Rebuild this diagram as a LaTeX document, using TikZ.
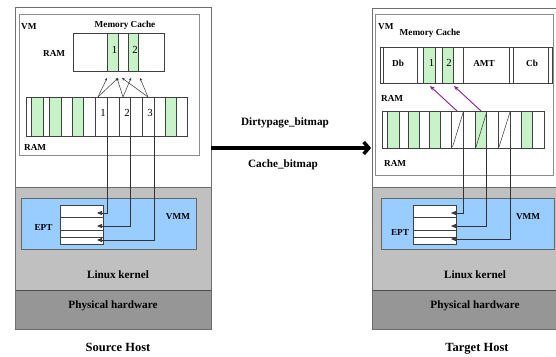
\documentclass[tikz,border=0pt]{standalone}
\usepackage{fontspec}
\setmainfont{Liberation Serif}
\usetikzlibrary{arrows.meta}
\definecolor{cgreen}{HTML}{C8F2C8}
\definecolor{cblue}{HTML}{99CCFF}
\definecolor{ckern}{HTML}{C0C0C0}
\definecolor{chw}{HTML}{969696}
\definecolor{cframe}{HTML}{6E6E6E}
\definecolor{cpurple}{HTML}{7A1F8A}
\begin{document}
\begin{tikzpicture}[x=1pt,y=-1pt,
  lbl/.style={font=\bfseries\fontsize{9.2}{10}\selectfont, inner sep=0pt},
  big/.style={font=\bfseries\fontsize{11.2}{12}\selectfont, inner sep=0pt},
  hostlbl/.style={font=\bfseries\fontsize{12.5}{14}\selectfont, inner sep=0pt, anchor=base},
  num/.style={font=\fontsize{10.8}{12}\selectfont, inner sep=0pt},
  frame/.style={draw=cframe, line width=0.7pt},
  vmbox/.style={draw=black!45, line width=0.7pt},
  cellbox/.style={draw=black!75, line width=0.55pt},
  bluebox/.style={draw=black!60, fill=cblue, line width=0.6pt},
  smallarr/.style={draw=black!80, line width=0.5pt, -{Stealth[length=2.8pt,width=2.4pt]}},
  eptarr/.style={draw=black!80, line width=0.65pt, -{Triangle[length=5pt,width=4pt]}},
  purparr/.style={draw=cpurple, line width=0.9pt, -{Stealth[length=5pt,width=4pt]}},
  bigarr/.style={draw=black, line width=3.5pt, -{Straight Barb[length=5pt,width=12pt]}}]
\useasboundingbox (0,0) rectangle (556,356);

%%%%%%%%%%%%%%%% SOURCE HOST %%%%%%%%%%%%%%%%
\fill[ckern] (15,187) rectangle (210.5,290);
\fill[chw] (15,290) rectangle (210.5,329);
\draw[black!70, line width=0.7pt] (15,290) -- (210.5,290);
\draw[frame] (15,187) -- (210.5,187);
\node[frame, minimum width=195.5pt, minimum height=322pt, anchor=north west, inner sep=0pt] (shost) at (15,7) {};
\node[vmbox, minimum width=180pt, minimum height=141pt, anchor=north west, inner sep=0pt] (svm) at (19,14) {};
\node[lbl, anchor=west] (svmlbl) at (21,27) {VM};
\node[lbl] (smclbl) at (125,25) {Memory Cache};
\node[lbl, anchor=west] (sramlbl) at (43,53) {RAM};
% memory cache box
\fill[cgreen] (107,33) rectangle (118,71);
\fill[cgreen] (128,33) rectangle (138,71);
\draw[cellbox] (107,33) -- (107,71) (118,33) -- (118,71) (128,33) -- (128,71) (138,33) -- (138,71);
\node[cellbox, minimum width=91pt, minimum height=38pt, anchor=north west, inner sep=0pt] (smc) at (73,33) {};
\node[num] (smc1) at (114.5,50) {1};
\node[num] (smc2) at (135,50) {2};
% RAM row
\foreach \a/\b/\c in {26.7/31.7/white, 31.7/43.3/cgreen, 43.3/49.3/white, 49.3/61/cgreen,
  61/72.7/white, 72.7/83.3/cgreen, 83.3/95.7/white, 95.7/107.3/white, 107.3/119/white,
  119/130.7/white, 130.7/142.3/white, 142.3/154/white, 154/165/white, 165/176.7/cgreen,
  176.7/187.3/white}
  \filldraw[cellbox, fill=\c] (\a,97) rectangle (\b,136);
\node[num] (sr1) at (103,113) {1};
\node[num] (sr2) at (127,113) {2};
\node[num] (sr3) at (150,113) {3};
\node[lbl, anchor=west] (sram2lbl) at (24,147) {RAM};
% arrows RAM -> cache
\coordinate (sa1) at (98,97);
\coordinate (sa2) at (123,97);
\coordinate (sa3) at (148,97);
\coordinate (st1) at (107,78);
\coordinate (st2) at (118,78);
\coordinate (st3) at (117,78);
\coordinate (st4) at (131,78);
\coordinate (st5) at (122,78);
\coordinate (st6) at (140,78);
\draw[smallarr] (sa1) -- (st1);
\draw[smallarr] (sa1) -- (st2);
\draw[smallarr] (sa2) -- (st3);
\draw[smallarr] (sa2) -- (st4);
\draw[smallarr] (sa3) -- (st5);
\draw[smallarr] (sa3) -- (st6);
% VMM
\node[bluebox, minimum width=175pt, minimum height=51pt, anchor=north west, inner sep=0pt] (svmm) at (21,198) {};
\node[lbl] (svmmlbl) at (178,217) {VMM};
\node[lbl] (septlbl) at (43.5,227) {EPT};
\node[cellbox, fill=white, minimum width=43pt, minimum height=39pt, anchor=north west, inner sep=0pt] (sept) at (60,205) {};
\draw[cellbox] (60,217) -- (103,217) (60,230) -- (103,230) (60,237) -- (103,237);
\coordinate (sd1) at (107.3,136);
\coordinate (sd2) at (130.7,136);
\coordinate (sd3) at (154,136);
\coordinate (se1) at (97,213);
\coordinate (se2) at (97,226);
\coordinate (se3) at (97,240);
\draw[eptarr] (sd1) |- (se1);
\draw[eptarr] (sd2) |- (se2);
\draw[eptarr] (sd3) |- (se3);
\node[big] (skern) at (118,275) {Linux kernel};
\node[big] (shw) at (113,306) {Physical hardware};
\node[hostlbl] (shostlbl) at (118,351.5) {Source Host};

%%%%%%%%%%%%%%%% MIDDLE %%%%%%%%%%%%%%%%
\coordinate (mstart) at (211,148);
\coordinate (mend) at (371,148);
\draw[bigarr] (mstart) -- (mend);
\node[big] (dirty) at (285,123) {Dirtypage\_bitmap};
\node[big] (cachebm) at (283,165) {Cache\_bitmap};

%%%%%%%%%%%%%%%% TARGET HOST %%%%%%%%%%%%%%%%
\fill[ckern] (372,187) rectangle (556,290);
\fill[chw] (372,290) rectangle (556,329);
\draw[black!70, line width=0.7pt] (372,290) -- (556,290);
\draw[frame] (372,187) -- (556,187);
\node[frame, minimum width=183.5pt, minimum height=321pt, anchor=north west, inner sep=0pt] (thost) at (372,8) {};
\node[vmbox, minimum width=178pt, minimum height=161pt, anchor=north west, inner sep=0pt] (tvm) at (375,14) {};
\node[lbl, anchor=west] (tvmlbl) at (378,27) {VM};
\node[lbl] (tmclbl) at (430,33) {Memory Cache};
% memory cache
\fill[cgreen] (423,47) rectangle (435,83);
\fill[cgreen] (442,47) rectangle (453,83);
\node[cellbox, minimum width=172pt, minimum height=36pt, anchor=north west, inner sep=0pt] (tmc) at (380,47) {};
\foreach \x in {383,417,423,435,442,453,463,509,513,548}
  \draw[cellbox] (\x,47) -- (\x,83);
\node[lbl] (tdb) at (398,63) {Db};
\node[num] (tmc1) at (431.5,63) {1};
\node[num] (tmc2) at (449,63) {2};
\node[lbl] (tamt) at (484,63) {AMT};
\node[lbl] (tcb) at (532,63) {Cb};
\node[lbl, anchor=west] (tramlbl) at (381,98) {RAM};
% RAM row
\foreach \a/\b/\c in {382.7/387.3/white, 387.3/399.3/cgreen, 399.3/408.3/white, 408.3/419.3/cgreen,
  419.3/429.3/white, 429.3/440/cgreen, 440/451.7/white, 451.7/463.3/white, 463.3/475/white,
  475/486.7/cgreen, 486.7/498.3/white, 498.3/510/white, 510/521.7/white, 521.7/532.7/cgreen,
  532.7/544/white}
  \filldraw[cellbox, fill=\c] (\a,111) rectangle (\b,148);
\draw[cellbox] (452.5,147) -- (463.3,112) (476,147) -- (486.7,112) (499,147) -- (510,112);
\node[lbl, anchor=west] (tram2lbl) at (384,163) {RAM};
% purple arrows
\coordinate (tp1) at (457,111);
\coordinate (tp2) at (481,111);
\coordinate (tq1) at (430,86);
\coordinate (tq2) at (454,86);
\draw[purparr] (tp1) -- (tq1);
\draw[purparr] (tp2) -- (tq2);
% VMM
\node[bluebox, minimum width=173pt, minimum height=51pt, anchor=north west, inner sep=0pt] (tvmm) at (381,198) {};
\node[lbl] (tvmmlbl) at (528,217) {VMM};
\node[lbl] (teptlbl) at (400,232) {EPT};
\node[cellbox, fill=white, minimum width=43pt, minimum height=39pt, anchor=north west, inner sep=0pt] (tept) at (413,205) {};
\draw[cellbox] (413,217) -- (456,217) (413,230) -- (456,230) (413,237) -- (456,237);
\coordinate (td1) at (463.3,148);
\coordinate (td2) at (486.7,148);
\coordinate (td3) at (510,148);
\coordinate (te1) at (451,213);
\coordinate (te2) at (451,226);
\coordinate (te3) at (451,239);
\draw[eptarr] (td1) |- (te1);
\draw[eptarr] (td2) |- (te2);
\draw[eptarr] (td3) |- (te3);
\node[big] (tkern) at (475,275) {Linux kernel};
\node[big] (thw) at (475,306) {Physical hardware};
\node[hostlbl] (thostlbl) at (477,351.5) {Target Host};
\end{tikzpicture}
\end{document}
